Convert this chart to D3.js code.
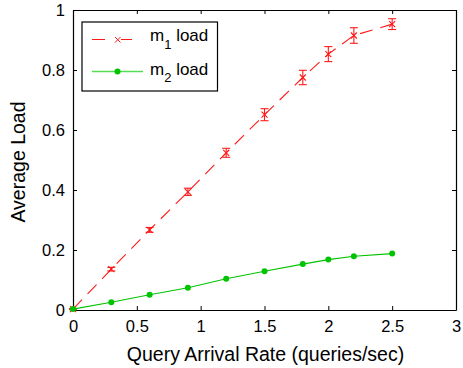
<!DOCTYPE html>
<html lang="en">
<head>
<meta charset="UTF-8">
<title>Average Load</title>
<script src="https://d3js.org/d3.v7.min.js"></script>
<style>
  body { margin: 0; padding: 0; background: #fff; }
  text { font-family: 'Liberation Sans', Arial, sans-serif; fill: #000; }
</style>
</head>
<body>
<svg id="chart" width="463" height="368"></svg>
<script>
// data
const rates   = [0, 0.3, 0.6, 0.9, 1.2, 1.5, 1.8, 2.0, 2.2, 2.5];
const m1Load  = [0.003, 0.136, 0.267, 0.394, 0.524, 0.651, 0.775, 0.853, 0.915, 0.953];
const m1Err   = [0.002, 0.006, 0.008, 0.012, 0.015, 0.020, 0.024, 0.025, 0.026, 0.018];
const m2Load  = [0.003, 0.026, 0.051, 0.074, 0.104, 0.129, 0.153, 0.168, 0.179, 0.188];
const xTicks  = [0, 0.5, 1, 1.5, 2, 2.5, 3];
const yTicks  = [0, 0.2, 0.4, 0.6, 0.8, 1];

var svg = d3.select("#chart"),
    pLeft = 73, pRight = 456, pTop = 10, pBottom = 310;

var x = d3.scaleLinear().domain([0, 3]).range([pLeft, pRight]),
    y = d3.scaleLinear().domain([0, 1]).range([pBottom, pTop]);

var red = "#ff1a1a", green = "#00c400";

// axes with inward ticks, box style
svg.append("g").attr("transform", "translate(0," + pBottom + ")")
  .call(d3.axisBottom(x).tickValues(xTicks).tickSizeInner(-4).tickSizeOuter(0).tickPadding(10)
    .tickFormat(d => d));
svg.append("g").attr("transform", "translate(" + pLeft + ",0)")
  .call(d3.axisLeft(y).tickValues(yTicks).tickSizeInner(-4).tickSizeOuter(0).tickPadding(8)
    .tickFormat(d => d));
svg.append("g").attr("transform", "translate(0," + pTop + ")")
  .call(d3.axisTop(x).tickValues(xTicks).tickSizeInner(-4).tickSizeOuter(0).tickFormat(""));
svg.append("g").attr("transform", "translate(" + pRight + ",0)")
  .call(d3.axisRight(y).tickValues(yTicks).tickSizeInner(-4).tickSizeOuter(0).tickFormat(""));

svg.selectAll(".domain").attr("stroke", "#000").attr("stroke-width", 1.2);
svg.selectAll(".tick line").attr("stroke", "#000");
svg.selectAll(".tick text").style("font-size", "16.5px")
  .style("font-family", "'Liberation Sans', Arial, sans-serif");

// axis labels
svg.append("text")
  .attr("x", (pLeft + pRight) / 2 + 1).attr("y", 361)
  .attr("text-anchor", "middle").style("font-size", "19.5px")
  .text("Query Arrival Rate (queries/sec)");
svg.append("text")
  .attr("text-anchor", "middle").style("font-size", "19.5px")
  .attr("transform", "translate(25,162)rotate(-90)")
  .text("Average Load");

var m1 = rates.map((r, i) => ({x: r, y: m1Load[i], e: m1Err[i]}));
var m2 = rates.map((r, i) => ({x: r, y: m2Load[i]}));

var line = d3.line().x(d => x(d.x)).y(d => y(d.y));

// m1: dashed red with error bars
svg.append("path").datum(m1).attr("d", line)
  .attr("fill", "none").attr("stroke", red).attr("stroke-width", 1.1)
  .attr("stroke-dasharray", "13,8");

var eb = svg.append("g").selectAll("g").data(m1).enter().append("g")
  .attr("stroke", red).attr("stroke-width", 1.1).attr("fill", "none");
eb.append("line")
  .attr("x1", d => x(d.x)).attr("x2", d => x(d.x))
  .attr("y1", d => y(d.y - d.e)).attr("y2", d => y(d.y + d.e));
eb.append("line")
  .attr("x1", d => x(d.x) - 4).attr("x2", d => x(d.x) + 4)
  .attr("y1", d => y(d.y - d.e)).attr("y2", d => y(d.y - d.e));
eb.append("line")
  .attr("x1", d => x(d.x) - 4).attr("x2", d => x(d.x) + 4)
  .attr("y1", d => y(d.y + d.e)).attr("y2", d => y(d.y + d.e));
eb.append("path")
  .attr("d", d => {
    var cx = x(d.x), cy = y(d.y), s = 3;
    return "M" + (cx - s) + "," + (cy - s) + "L" + (cx + s) + "," + (cy + s) +
           "M" + (cx - s) + "," + (cy + s) + "L" + (cx + s) + "," + (cy - s);
  });

// m2: solid green with dots
svg.append("path").datum(m2).attr("d", line)
  .attr("fill", "none").attr("stroke", green).attr("stroke-width", 1.1);
svg.append("g").selectAll("circle").data(m2).enter().append("circle")
  .attr("cx", d => x(d.x)).attr("cy", d => y(d.y)).attr("r", 3)
  .attr("fill", green);

// legend
var lg = svg.append("g");
lg.append("rect").attr("x", 82).attr("y", 22).attr("width", 135.5).attr("height", 69)
  .attr("fill", "#fff").attr("stroke", "#000").attr("stroke-width", 1.2);

lg.append("line").attr("x1", 92).attr("x2", 105).attr("y1", 39.5).attr("y2", 39.5)
  .attr("stroke", red);
lg.append("line").attr("x1", 121).attr("x2", 132).attr("y1", 39.5).attr("y2", 39.5)
  .attr("stroke", red);
lg.append("path").attr("stroke", red).attr("fill", "none")
  .attr("d", "M115,37L120.5,42.5M115,42.5L120.5,37");
var t1 = lg.append("text").attr("x", 150).attr("y", 41).style("font-size", "17px");
t1.append("tspan").text("m");
t1.append("tspan").attr("dy", 8).style("font-size", "13px").text("1");
t1.append("tspan").attr("dy", -8).text(" load");

lg.append("line").attr("x1", 92).attr("x2", 143).attr("y1", 71.5).attr("y2", 71.5)
  .attr("stroke", "#55dd55").attr("stroke-width", 1.5);
lg.append("circle").attr("cx", 117.5).attr("cy", 71.5).attr("r", 3).attr("fill", green);
var t2 = lg.append("text").attr("x", 150).attr("y", 74.5).style("font-size", "17px");
t2.append("tspan").text("m");
t2.append("tspan").attr("dy", 7.5).style("font-size", "13px").text("2");
t2.append("tspan").attr("dy", -7.5).text(" load");
</script>
</body>
</html>
